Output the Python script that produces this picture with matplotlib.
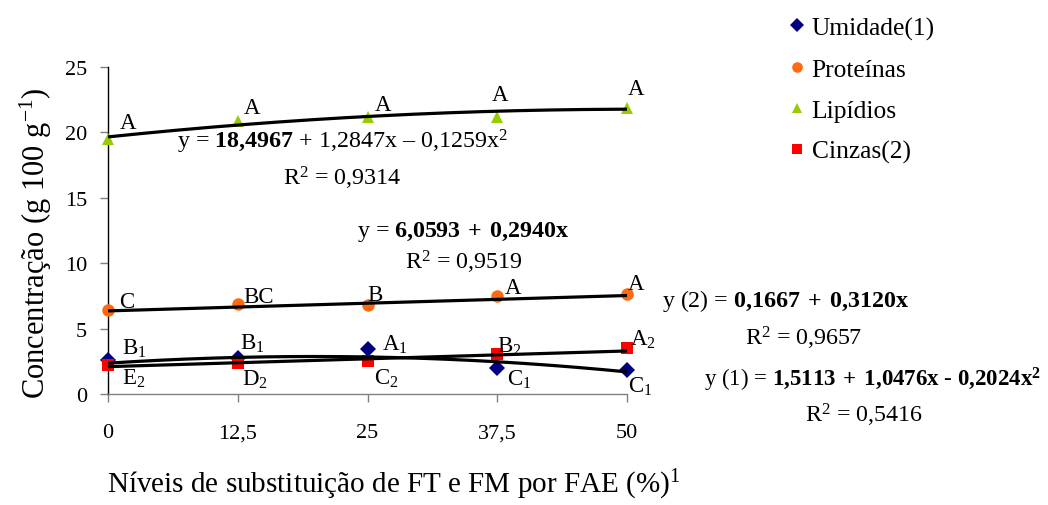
import matplotlib
matplotlib.use("Agg")
import matplotlib.pyplot as plt
import numpy as np
from matplotlib.lines import Line2D

plt.rcParams["font.family"] = ["Liberation Serif", "DejaVu Serif"]
plt.rcParams["mathtext.fontset"] = "custom"
plt.rcParams["mathtext.rm"] = "Liberation Serif"
plt.rcParams["mathtext.bf"] = "Liberation Serif:bold"
plt.rcParams["mathtext.it"] = "Liberation Serif:italic"
plt.rcParams["mathtext.default"] = "regular"

# data
niveis = [0, 12.5, 25, 37.5, 50]
tick_labels = ["0", "12,5", "25", "37,5", "50"]
umidade = [2.62, 2.76, 3.44, 1.99, 1.84]
proteinas = [6.40, 6.88, 6.83, 7.52, 7.62]
lipidios = [19.5, 20.9, 21.15, 21.2, 21.9]
cinzas = [2.24, 2.37, 2.55, 3.06, 3.52]

# letters of the mean comparison tests
let_umidade = ["B$_1$", "B$_1$", "A$_1$", "C$_1$", "C$_1$"]
let_proteinas = ["C", "BC", "B", "A", "A"]
let_lipidios = ["A", "A", "A", "A", "A"]
let_cinzas = ["E$_2$", "D$_2$", "C$_2$", "B$_2$", "A$_2$"]

# trend coefficients (x = level index 1..5)
fit_lipidios = [18.4967, 1.2847, -0.1259]
fit_proteinas = [6.0593, 0.2940]
fit_umidade = [1.5113, 1.0476, -0.2024]
fit_cinzas = [1.79, 0.30]  # line as drawn in the chart

W, H = 1048, 506
fig = plt.figure(figsize=(W / 100, H / 100), dpi=100)
ax = fig.add_axes([108 / W, 1 - 395 / H, (627 - 108) / W, (395 - 68) / H])

xs = np.linspace(0, 50, 200)
idx = xs / 12.5 + 1


def poly(c, t):
    return sum(ci * t ** k for k, ci in enumerate(c))


for c in (fit_lipidios, fit_proteinas, fit_umidade, fit_cinzas):
    ax.plot(xs, poly(c, idx), color="black", lw=2.3, zorder=4, clip_on=False,
            solid_capstyle="butt")

series = [
    ("Umidade(1)", umidade, "D", "#000080", 8.0),
    ("Proteínas", proteinas, "o", "#FF6A10", 9.0),
    ("Lipídios", lipidios, "^", "#99CC00", 9.0),
    ("Cinzas(2)", cinzas, "s", "#FF0000", 8.5),
]
for name, vals, m, col, ms in series:
    ax.plot(niveis, vals, ls="none", marker=m, color=col, ms=ms,
            markeredgewidth=0, zorder=3, clip_on=False)

fs_let = 16.5


def put(x, y, s, dx, dy):
    # dx: pixels to the left edge of the letter, dy: pixels to its centre (up)
    ax.annotate(s, (x, y), xytext=(dx * 0.72, (dy - 7.5) * 0.72),
                textcoords="offset points", ha="left", va="baseline",
                fontsize=fs_let, annotation_clip=False)


off_lip = [(12, 18), (6, 15), (7, 15), (-5, 24), (1, 21)]
off_pro = [(11, 11), (6, 10), (0, 12), (8, 10), (1, 13)]
off_umi = [(14, 14), (2, 17), (14, 7), (10, -9), (1, -14)]
off_cin = [(14, -11), (4, -14), (6, -16), (0, 10), (3, 11)]
for i, x in enumerate(niveis):
    put(x, lipidios[i], let_lipidios[i], *off_lip[i])
    put(x, proteinas[i], let_proteinas[i], *off_pro[i])
    put(x, umidade[i], let_umidade[i], *off_umi[i])
    put(x, cinzas[i], let_cinzas[i], *off_cin[i])

ax.set_xlim(0, 50)
ax.set_ylim(0, 25)
ax.set_xticks(niveis)
ax.set_xticklabels(tick_labels)
ax.set_yticks([0, 5, 10, 15, 20, 25])
for s in ("top", "right"):
    ax.spines[s].set_visible(False)
ax.spines["left"].set_linewidth(1.0)
ax.spines["bottom"].set_linewidth(1.0)
ax.spines["bottom"].set_color("#808080")
ax.tick_params(axis="both", direction="out", length=6, width=1, labelsize=16,
               color="#808080")
ax.tick_params(axis="x", pad=15)
ax.tick_params(axis="y", pad=9)

fig.text(36 / W, 1 - 243 / H, "Concentração (g 100 g$^{-1}$)", rotation=90,
         ha="center", va="center", fontsize=22)
fig.text(107 / W, 1 - 493 / H, "Níveis de substituição de FT e FM por FAE (%)$^1$",
         ha="left", va="baseline", fontsize=21)

fe = 17.3


def eq(px, py, s, size=fe):
    fig.text(px / W, 1 - py / H, s, ha="left", va="baseline", fontsize=size)


eq(177, 149, r"y = $\mathbf{18{,}4967}$ + 1,2847x – 0,125$9$x$^2$")
eq(283, 186, r"R$^2$ = 0,9314")
eq(357, 237, r"y = $\mathbf{6{,}0593\;+\;0{,}2940x}$")
eq(405, 269, r"R$^2$ = 0,9519")
eq(662, 307, r"y (2) = $\mathbf{0{,}1667\;+\;0{,}3120x}$")
eq(745, 346, r"R$^2$ = 0,9657")
eq(704, 386, r"y (1) = $\mathbf{1{,}5113\;+\;1{,}0476x}$ - $\mathbf{0{,}2024x^2}$", 16.5)
eq(805, 423, r"R$^2$ = 0,5416")

handles = [Line2D([], [], ls="none", marker=m, color=col, ms=ms * 0.85, markeredgewidth=0)
           for _, _, m, col, ms in series]
fig.legend(handles, [s[0] for s in series], loc="upper left",
           bbox_to_anchor=(777 / W, 1 - 7 / H), frameon=False, fontsize=18.4,
           handlelength=0.8, handletextpad=0.16, labelspacing=0.71, borderaxespad=0)

fig.savefig("out.png", dpi=100)
